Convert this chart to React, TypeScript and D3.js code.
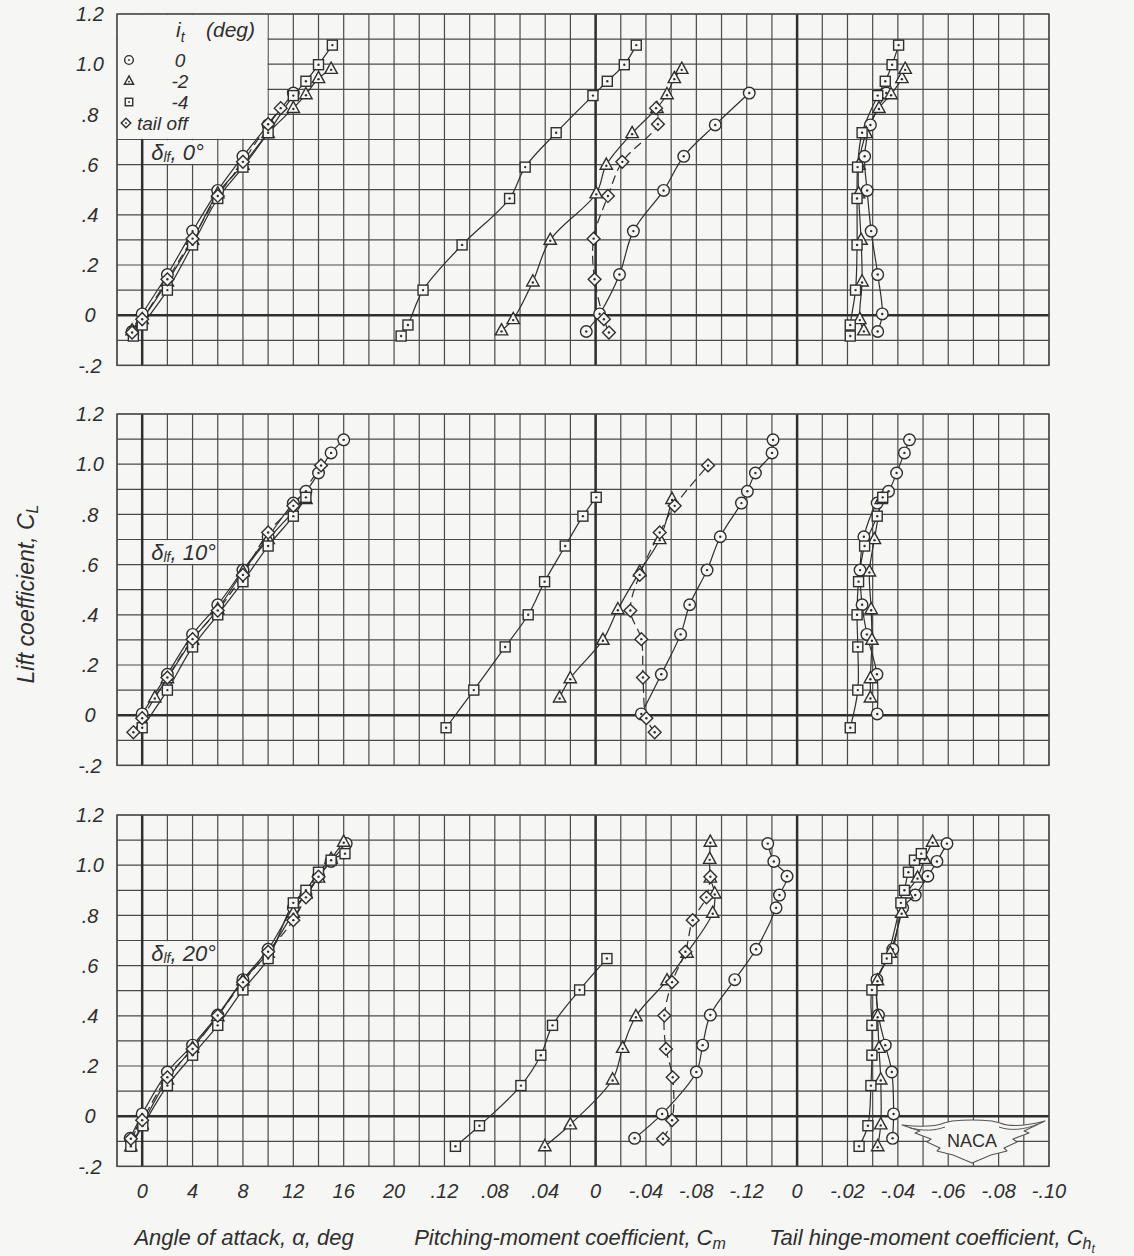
import React from "react";
import * as d3 from "d3";

// Each row: [angle of attack (deg), lift coefficient CL, pitching-moment Cm, tail hinge-moment Cht]
type Row = [number, number, number | null, number | null];

// ---- δlf = 0° ----
const flap0_it0: Row[] = [
  [-0.8, -0.065, 0.0074, -0.032],
  [0, 0.005, -0.0032, -0.0338],
  [2, 0.162, -0.019, -0.032],
  [4, 0.335, -0.03, -0.0294],
  [6, 0.497, -0.054, -0.0278],
  [8, 0.633, -0.07, -0.0268],
  [10, 0.758, -0.095, -0.0291],
  [12, 0.885, -0.122, -0.0354],
];
const flap0_itm2: Row[] = [
  [-0.8, -0.061, 0.0747, -0.0265],
  [0, -0.016, 0.0654, -0.0249],
  [2, 0.134, 0.0498, -0.0258],
  [4, 0.3, 0.036, -0.0254],
  [6, 0.485, -0.0005, -0.0244],
  [8, 0.599, -0.0085, -0.0245],
  [10, 0.725, -0.029, -0.0274],
  [12, 0.825, -0.0487, -0.0325],
  [13, 0.88, -0.0567, -0.0373],
  [14, 0.944, -0.0625, -0.0416],
  [15, 0.981, -0.0684, -0.0429],
];
const flap0_itm4: Row[] = [
  [-0.7, -0.083, 0.1544, -0.0211],
  [0, -0.039, 0.149, -0.0211],
  [2, 0.1, 0.137, -0.0232],
  [4, 0.28, 0.106, -0.0238],
  [6, 0.465, 0.0683, -0.0238],
  [8, 0.59, 0.0559, -0.024],
  [10, 0.727, 0.0313, -0.0258],
  [12, 0.875, 0.0021, -0.032],
  [13, 0.932, -0.0093, -0.035],
  [14, 0.998, -0.0228, -0.0377],
  [15.1, 1.076, -0.0323, -0.0403],
];
const flap0_tailOff: Row[] = [
  [-0.8, -0.069, -0.0106, null],
  [0, -0.016, -0.0066, null],
  [2, 0.143, 0.0008, null],
  [4, 0.305, 0.0016, null],
  [6, 0.475, -0.0098, null],
  [8, 0.611, -0.0212, null],
  [10, 0.761, -0.0495, null],
  [11, 0.825, -0.048, null],
];

// ---- δlf = 10° ----
const flap10_it0: Row[] = [
  [0, 0.005, -0.0363, -0.0318],
  [2, 0.163, -0.0522, -0.0317],
  [4, 0.322, -0.0675, -0.0277],
  [6, 0.44, -0.0747, -0.0258],
  [8, 0.578, -0.0885, -0.025],
  [10, 0.711, -0.099, -0.0265],
  [12, 0.845, -0.1158, -0.0318],
  [13, 0.892, -0.1205, -0.0363],
  [14, 0.965, -0.1269, -0.0395],
  [15, 1.045, -0.1401, -0.0426],
  [16, 1.097, -0.1409, -0.0446],
];
const flap10_itm2: Row[] = [
  [1, 0.07, 0.0286, -0.0291],
  [2, 0.147, 0.0201, -0.0291],
  [4, 0.3, -0.0058, -0.0297],
  [6, 0.422, -0.0177, -0.0294],
  [8, 0.572, -0.035, -0.0287],
  [10, 0.701, -0.0509, -0.0307],
  [13, 0.861, -0.0607, -0.0334],
];
const flap10_itm4: Row[] = [
  [0, -0.05, 0.1187, -0.0211],
  [2, 0.1, 0.0967, -0.0241],
  [4, 0.272, 0.0718, -0.0241],
  [6, 0.4, 0.0535, -0.0238],
  [8, 0.532, 0.0405, -0.0244],
  [10, 0.674, 0.0241, -0.0268],
  [12, 0.793, 0.0101, -0.0318],
  [13, 0.868, -0.0005, -0.034],
];
const flap10_tailOff: Row[] = [
  [-0.7, -0.068, -0.0469, null],
  [0, -0.012, -0.0403, null],
  [2, 0.15, -0.0376, null],
  [4, 0.303, -0.0363, null],
  [6, 0.417, -0.0276, null],
  [8, 0.559, -0.035, null],
  [10, 0.728, -0.0509, null],
  [12, 0.834, -0.0628, null],
  [14.2, 0.995, -0.0893, null],
];

// ---- δlf = 20° ----
const flap20_it0: Row[] = [
  [-0.95, -0.088, -0.031, -0.0379],
  [0, 0.009, -0.0528, -0.0383],
  [2, 0.176, -0.08, -0.0376],
  [4, 0.283, -0.085, -0.035],
  [6, 0.403, -0.0911, -0.0323],
  [8, 0.544, -0.1105, -0.0317],
  [10, 0.665, -0.1274, -0.038],
  [12, 0.83, -0.1433, -0.0419],
  [13, 0.881, -0.146, -0.0469],
  [14, 0.956, -0.152, -0.0519],
  [15, 1.015, -0.1415, -0.0555],
  [16.2, 1.086, -0.1367, -0.0595],
];
const flap20_itm2: Row[] = [
  [-0.9, -0.12, 0.0403, -0.032],
  [0, -0.033, 0.0201, -0.0332],
  [2, 0.146, -0.0135, -0.0332],
  [4, 0.272, -0.0215, -0.0325],
  [6, 0.398, -0.032, -0.032],
  [8, 0.541, -0.0567, -0.0319],
  [10, 0.651, -0.0726, -0.037],
  [12, 0.81, -0.093, -0.0415],
  [13, 0.887, -0.0946, -0.0435],
  [14, 0.95, -0.0911, -0.0478],
  [15, 1.025, -0.0906, -0.0506],
  [16, 1.093, -0.0911, -0.0538],
];
const flap20_itm4: Row[] = [
  [-0.9, -0.12, 0.1113, -0.0246],
  [0.05, -0.038, 0.0922, -0.0281],
  [2, 0.122, 0.0593, -0.0293],
  [4, 0.243, 0.0435, -0.0297],
  [6, 0.362, 0.0342, -0.0297],
  [8, 0.503, 0.0127, -0.0297],
  [10, 0.628, -0.009, -0.0356],
  [12, 0.85, null, -0.0412],
  [13, 0.9, null, -0.0426],
  [14, 0.972, null, -0.0442],
  [15, 1.02, null, -0.0466],
  [16.1, 1.046, null, -0.0493],
];
const flap20_tailOff: Row[] = [
  [-0.9, -0.09, -0.0535, null],
  [0, -0.016, -0.0607, null],
  [2, 0.155, -0.0612, null],
  [4, 0.268, -0.0559, null],
  [6, 0.401, -0.0546, null],
  [8, 0.534, -0.0607, null],
  [10, 0.655, -0.0713, null],
  [12, 0.781, -0.0771, null],
  [13, 0.872, -0.088, null],
  [14, 0.954, -0.0911, null],
];

const FLAP_DEFLECTIONS = [0, 10, 20];
const PANEL_SERIES: Row[][][] = [
  [flap0_it0, flap0_itm2, flap0_itm4, flap0_tailOff],
  [flap10_it0, flap10_itm2, flap10_itm4, flap10_tailOff],
  [flap20_it0, flap20_itm2, flap20_itm4, flap20_tailOff],
];
const INCIDENCE_LABELS = ["0", "-2", "-4", "tail off"];

const CL_TICKS = [-0.2, 0, 0.2, 0.4, 0.6, 0.8, 1.0, 1.2];
const CL_TICK_LABELS = ["-.2", "0", ".2", ".4", ".6", ".8", "1.0", "1.2"];
const ALPHA_TICKS = [0, 4, 8, 12, 16, 20];
const ALPHA_TICK_LABELS = ["0", "4", "8", "12", "16", "20"];
const CM_TICKS = [0.12, 0.08, 0.04, 0, -0.04, -0.08, -0.12];
const CM_TICK_LABELS = [".12", ".08", ".04", "0", "-.04", "-.08", "-.12"];
const CHT_TICKS = [0, -0.02, -0.04, -0.06, -0.08, -0.1];
const CHT_TICK_LABELS = ["0", "-.02", "-.04", "-.06", "-.08", "-.10"];

// ---- layout ----
const W = 1134;
const H = 1256;
const LEFT = 117;
const RIGHT = 1049;
const CELL = (RIGHT - LEFT) / 37;
const PANEL_TOPS = [14, 414, 815];
const PANEL_H = 351.4;

const BG = "#f6f6f5";
const INK = "#2f2f2f";
const GRID = "#4a4a4a";
const FONT = "'Liberation Sans', Arial, sans-serif";

// three side-by-side abscissae sharing one grid
const xAlpha = d3.scaleLinear().domain([-2, 20]).range([LEFT, LEFT + 11 * CELL]);
const xCm = d3.scaleLinear().domain([0.16, -0.16]).range([LEFT + 11 * CELL, LEFT + 27 * CELL]);
const xCht = d3.scaleLinear().domain([0, -0.1]).range([LEFT + 27 * CELL, LEFT + 37 * CELL]);

const gridXs = [
  ...d3.range(-2, 20.001, 2).map((v) => xAlpha(v)),
  ...d3.range(14, -16.001, -2).map((v) => xCm(v / 100)),
  ...d3.range(1, 10.001, 1).map((v) => xCht(-v / 100)),
];

const MARKER_KINDS = ["circle", "triangle", "square", "diamond"] as const;
type Kind = (typeof MARKER_KINDS)[number];

function Marker({ kind, x, y, s = 1 }: { kind: Kind; x: number; y: number; s?: number }) {
  const common = { fill: BG, stroke: INK, strokeWidth: 1.4 };
  let shape: React.ReactNode;
  let dy = 0;
  if (kind === "circle") {
    shape = <circle cx={x} cy={y} r={5.8 * s} {...common} />;
  } else if (kind === "triangle") {
    const pts = [
      [x, y - 6.8 * s],
      [x + 6.2 * s, y + 4.4 * s],
      [x - 6.2 * s, y + 4.4 * s],
    ];
    shape = <polygon points={pts.map((p) => p.join(",")).join(" ")} {...common} />;
    dy = 0.9 * s;
  } else if (kind === "square") {
    shape = <rect x={x - 5 * s} y={y - 5 * s} width={10 * s} height={10 * s} {...common} />;
  } else {
    const r = 6.4 * s;
    const pts = [
      [x, y - r],
      [x + r, y],
      [x, y + r],
      [x - r, y],
    ];
    shape = <polygon points={pts.map((p) => p.join(",")).join(" ")} {...common} />;
  }
  return (
    <g>
      {shape}
      <circle cx={x} cy={y + dy} r={1.2 * s} fill={INK} />
    </g>
  );
}

const curve = d3.line<[number, number]>().curve(d3.curveCatmullRom.alpha(0.5));

function Panel({ top, flap, series, legend }: { top: number; flap: number; series: Row[][]; legend: boolean }) {
  const y = d3.scaleLinear().domain([-0.2, 1.2]).range([top + PANEL_H, top]);
  const bottom = y(-0.2);
  const hLines = d3.range(-2, 12.001, 1).map((v) => y(v / 10));

  const plots = series.map((rows, si) => {
    const alphaPts = rows.map((r) => [xAlpha(r[0]), y(r[1])] as [number, number]);
    const cmPts = rows.filter((r) => r[2] !== null).map((r) => [xCm(r[2] as number), y(r[1])] as [number, number]);
    const chtPts = rows.filter((r) => r[3] !== null).map((r) => [xCht(r[3] as number), y(r[1])] as [number, number]);
    return { kind: MARKER_KINDS[si], dashed: si === 3, sets: [alphaPts, cmPts, chtPts] };
  });

  const thickAlphaTop = legend ? y(0.7) : top;
  const legendRows = [60, 81, 102, 123];

  return (
    <g>
      {/* thin grid */}
      {gridXs.map((x, i) => (
        <line key={"v" + i} x1={x} x2={x} y1={top} y2={bottom} stroke={GRID} strokeWidth={1.2} />
      ))}
      {hLines.map((yy, i) => (
        <line key={"h" + i} x1={LEFT} x2={RIGHT} y1={yy} y2={yy} stroke={GRID} strokeWidth={1.2} />
      ))}

      {/* cleared areas for the legend and the flap label */}
      {legend && (
        <rect x={LEFT + 0.7} y={top + 0.7} width={xAlpha(10) - LEFT - 1.4} height={y(0.7) - top - 1.4} fill={BG} />
      )}
      <rect x={xAlpha(0) + 0.7} y={y(0.7) + 0.7} width={xAlpha(6) - xAlpha(0) - 1.4} height={y(0.6) - y(0.7) - 1.4} fill={BG} />

      {/* zero axes */}
      <line x1={xAlpha(0)} x2={xAlpha(0)} y1={thickAlphaTop} y2={bottom} stroke={INK} strokeWidth={2.5} />
      <line x1={xCm(0)} x2={xCm(0)} y1={top} y2={bottom} stroke={INK} strokeWidth={2.5} />
      <line x1={xCht(0)} x2={xCht(0)} y1={top} y2={bottom} stroke={INK} strokeWidth={2.5} />
      <line x1={LEFT} x2={RIGHT} y1={y(0)} y2={y(0)} stroke={INK} strokeWidth={2.5} />
      <rect x={LEFT} y={top} width={RIGHT - LEFT} height={PANEL_H} fill="none" stroke={GRID} strokeWidth={1.4} />

      {/* curves */}
      {plots.map((p, i) =>
        p.sets.map((pts, j) =>
          pts.length > 1 ? (
            <path
              key={`c${i}-${j}`}
              d={curve(pts) || ""}
              fill="none"
              stroke={INK}
              strokeWidth={1.2}
              strokeDasharray={p.dashed ? "9 5" : undefined}
            />
          ) : null
        )
      )}
      {plots.map((p, i) =>
        p.sets.map((pts, j) =>
          pts.map((pt, k) => <Marker key={`m${i}-${j}-${k}`} kind={p.kind} x={pt[0]} y={pt[1]} />)
        )
      )}

      {/* CL tick labels */}
      {CL_TICKS.map((v, i) => (
        <text key={"t" + i} x={90} y={y(v)} dy="0.36em" textAnchor="middle" fontSize={20} fontStyle="italic" fill={INK}>
          {CL_TICK_LABELS[i]}
        </text>
      ))}

      {/* flap deflection label */}
      <text x={xAlpha(0) + 9} y={y(0.6) - 5} fontSize={22} fontStyle="italic" fill={INK}>
        δ
        <tspan fontSize={14} dy={2}>
          lf
        </tspan>
        <tspan dy={-2}>{`, ${flap}°`}</tspan>
      </text>

      {legend && (
        <g fontStyle="italic" fill={INK}>
          <text x={176} y={37} fontSize={21}>
            i
            <tspan fontSize={14} dy={5}>
              t
            </tspan>
          </text>
          <text x={206} y={37} fontSize={21}>
            (deg)
          </text>
          {INCIDENCE_LABELS.map((lab, i) => {
            const yy = legendRows[i];
            const isText = i === 3;
            return (
              <g key={lab}>
                <Marker kind={MARKER_KINDS[i]} x={isText ? 126 : 129} y={yy} s={0.75} />
                <text x={isText ? 137 : 180} y={yy} dy="0.36em" fontSize={19} textAnchor={isText ? "start" : "middle"}>
                  {lab}
                </text>
              </g>
            );
          })}
        </g>
      )}
    </g>
  );
}

function NacaLogo({ cx, cy }: { cx: number; cy: number }) {
  const outer = [
    "M", -70, -16,
    "C", -52, -14, -38, -14, -28, -18,
    "L", -20, -20,
    "Q", 0, -22, 20, -20,
    "L", 28, -18,
    "C", 38, -14, 54, -15, 73, -20,
    "L", 52, -10, "L", 57, -8, "L", 41, -2, "L", 45, 1, "L", 32, 7, "L", 35, 10, "L", 19, 14,
    "L", 0, 22,
    "L", -19, 14, "L", -35, 10, "L", -32, 7, "L", -45, 1, "L", -41, -2, "L", -57, -8, "L", -52, -10,
    "Z",
  ].join(" ");
  const inner = "M -62 -13 C -48 -10 -38 -10 -27 -14 M 27 -14 C 38 -10 52 -11 66 -17";
  return (
    <g transform={`translate(${cx},${cy})`}>
      <path d={outer} fill={BG} stroke="#555" strokeWidth={1.1} strokeLinejoin="round" />
      <path d={inner} fill="none" stroke="#555" strokeWidth={1} />
      <text x={0} y={6} textAnchor="middle" fontSize={18} fill={INK} fontFamily={FONT}>
        NACA
      </text>
    </g>
  );
}

export default function App() {
  const tickY = 1191;
  const titleY = 1245;
  return (
    <svg
      width={W}
      height={H}
      viewBox={`0 0 ${W} ${H}`}
      style={{ position: "absolute", left: 0, top: 0, display: "block" }}
      fontFamily={FONT}
    >
      <rect width={W} height={H} fill={BG} />
      {FLAP_DEFLECTIONS.map((f, i) => (
        <Panel key={f} top={PANEL_TOPS[i]} flap={f} series={PANEL_SERIES[i]} legend={i === 0} />
      ))}

      <NacaLogo cx={972} cy={1141} />

      {/* bottom tick labels */}
      <g fontSize={20} fontStyle="italic" fill={INK} textAnchor="middle">
        {ALPHA_TICKS.map((v, i) => (
          <text key={"a" + i} x={xAlpha(v)} y={tickY} dy="0.36em">
            {ALPHA_TICK_LABELS[i]}
          </text>
        ))}
        {CM_TICKS.map((v, i) => (
          <text key={"m" + i} x={xCm(v)} y={tickY} dy="0.36em">
            {CM_TICK_LABELS[i]}
          </text>
        ))}
        {CHT_TICKS.map((v, i) => (
          <text key={"h" + i} x={xCht(v)} y={tickY} dy="0.36em">
            {CHT_TICK_LABELS[i]}
          </text>
        ))}
      </g>

      {/* axis titles */}
      <g fontSize={22} fontStyle="italic" fill={INK}>
        <text x={244} y={titleY} textAnchor="middle">
          Angle of attack, α, deg
        </text>
        <text x={570} y={titleY} textAnchor="middle">
          Pitching-moment coefficient, C
          <tspan fontSize={16} dy={4}>
            m
          </tspan>
        </text>
        <text x={932} y={titleY} textAnchor="middle">
          Tail hinge-moment coefficient, C
          <tspan fontSize={16} dy={4}>
            h
          </tspan>
          <tspan fontSize={12} dy={4}>
            t
          </tspan>
        </text>
        <text transform="translate(34,594) rotate(-90)" textAnchor="middle" fontSize={23}>
          Lift coefficient, C
          <tspan fontSize={16} dy={4}>
            L
          </tspan>
        </text>
      </g>
    </svg>
  );
}
